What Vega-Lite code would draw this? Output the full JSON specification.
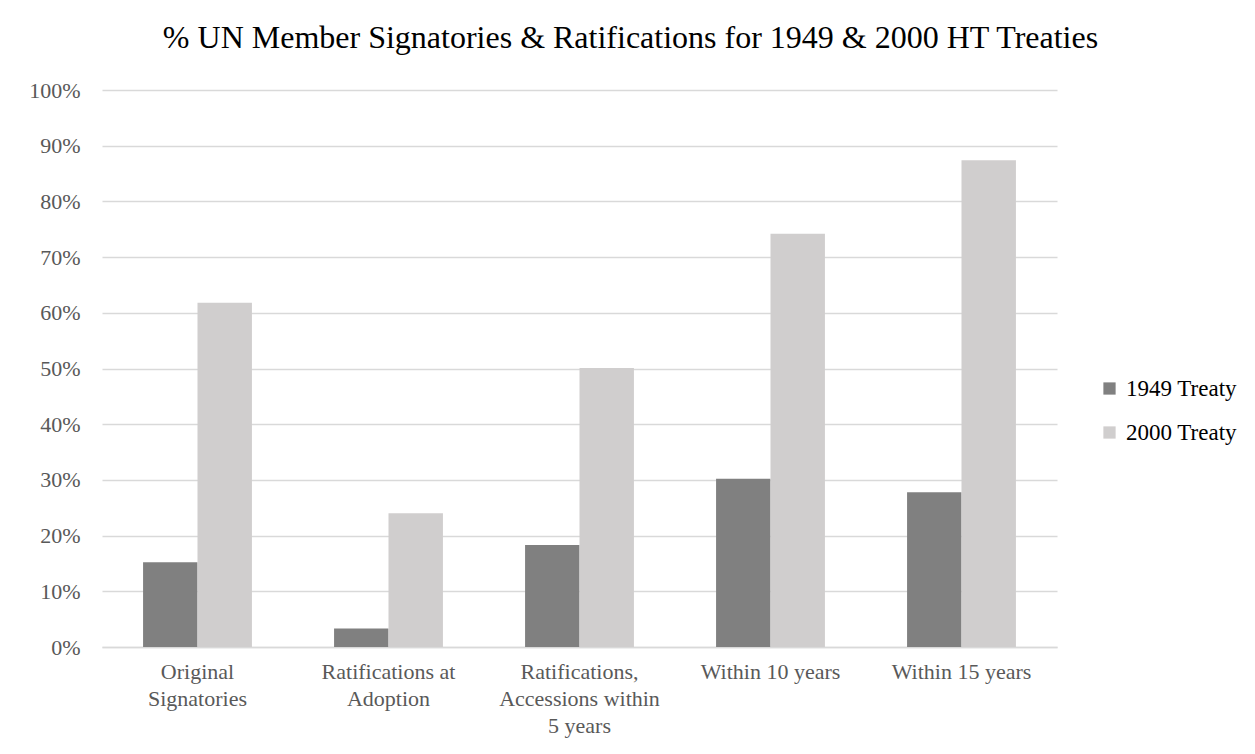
{
  "$schema": "https://vega.github.io/schema/vega-lite/v6.json",
  "width": 955,
  "height": 557,
  "autosize": {"type": "none"},
  "padding": {"left": 102, "top": 90, "right": 198, "bottom": 107},
  "background": "white",
  "title": {
    "text": "% UN Member Signatories & Ratifications for 1949 & 2000 HT Treaties",
    "font": "Liberation Serif",
    "fontSize": 32,
    "fontWeight": "normal",
    "color": "#000000",
    "anchor": "middle",
    "dx": 51,
    "offset": 24
  },
  "data": {
    "values": [
      {"category": "Original Signatories", "treaty": "1949 Treaty", "pct": 15.2},
      {"category": "Original Signatories", "treaty": "2000 Treaty", "pct": 61.8},
      {"category": "Ratifications at Adoption", "treaty": "1949 Treaty", "pct": 3.3},
      {"category": "Ratifications at Adoption", "treaty": "2000 Treaty", "pct": 24.0},
      {"category": "Ratifications, Accessions within 5 years", "treaty": "1949 Treaty", "pct": 18.3},
      {"category": "Ratifications, Accessions within 5 years", "treaty": "2000 Treaty", "pct": 50.1},
      {"category": "Within 10 years", "treaty": "1949 Treaty", "pct": 30.2},
      {"category": "Within 10 years", "treaty": "2000 Treaty", "pct": 74.2},
      {"category": "Within 15 years", "treaty": "1949 Treaty", "pct": 27.8},
      {"category": "Within 15 years", "treaty": "2000 Treaty", "pct": 87.4}
    ]
  },
  "mark": {"type": "bar"},
  "encoding": {
    "x": {
      "field": "category",
      "type": "nominal",
      "sort": ["Original Signatories", "Ratifications at Adoption", "Ratifications, Accessions within 5 years", "Within 10 years", "Within 15 years"],
      "scale": {"paddingInner": 0.43, "paddingOuter": 0.215},
      "title": null,
      "axis": {
        "labelAngle": 0,
        "labelFont": "Liberation Serif",
        "labelFontSize": 22,
        "labelColor": "#595959",
        "labelLineHeight": 27,
        "labelPadding": 14,
        "labelLimit": 0,
        "ticks": false,
        "domainColor": "#D9D9D9",
        "domainWidth": 1.5,
        "labelExpr": "datum.value == 'Original Signatories' ? ['Original', 'Signatories'] : datum.value == 'Ratifications at Adoption' ? ['Ratifications at', 'Adoption'] : datum.value == 'Ratifications, Accessions within 5 years' ? ['Ratifications,', 'Accessions within', '5 years'] : datum.value"
      }
    },
    "xOffset": {
      "field": "treaty",
      "type": "nominal",
      "scale": {"paddingInner": 0, "paddingOuter": 0}
    },
    "y": {
      "field": "pct",
      "type": "quantitative",
      "scale": {"domain": [0, 100]},
      "title": null,
      "axis": {
        "values": [0, 10, 20, 30, 40, 50, 60, 70, 80, 90, 100],
        "labelExpr": "datum.value + '%'",
        "labelFont": "Liberation Serif",
        "labelFontSize": 22,
        "labelColor": "#595959",
        "labelPadding": 22,
        "ticks": false,
        "domain": false,
        "grid": true,
        "gridColor": "#D9D9D9",
        "gridWidth": 1.5
      }
    },
    "color": {
      "field": "treaty",
      "type": "nominal",
      "scale": {"domain": ["1949 Treaty", "2000 Treaty"], "range": ["#808080", "#D0CECE"]},
      "legend": {
        "title": null,
        "orient": "none",
        "legendX": 996,
        "legendY": 287,
        "symbolType": "square",
        "symbolSize": 150,
        "symbolStrokeWidth": 0,
        "labelFont": "Liberation Serif",
        "labelFontSize": 23,
        "labelColor": "#000000",
        "labelOffset": 5,
        "rowPadding": 20,
        "padding": 0
      }
    }
  },
  "config": {"view": {"stroke": null}}
}
